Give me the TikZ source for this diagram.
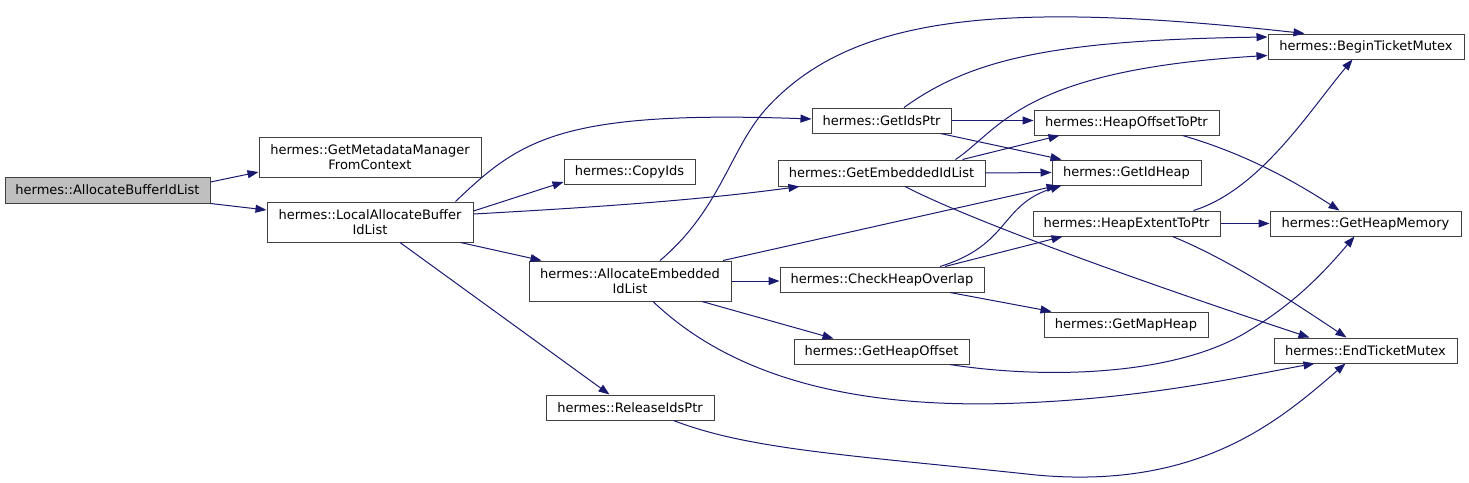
\documentclass[tikz,border=0pt]{standalone}
\usepackage{fontspec}
\setmainfont{DejaVu Sans}
\usetikzlibrary{arrows.meta}
\definecolor{edgec}{HTML}{191970}
\definecolor{boxc}{HTML}{404040}
\definecolor{rootc}{HTML}{BFBFBF}
\begin{document}
\begin{tikzpicture}[x=1pt,y=-1pt,
  box/.style={draw=boxc, line width=1pt, fill=white, inner sep=0pt, align=center,
    font=\fontsize{13}{15}\selectfont, minimum height=25pt},
  tall/.style={minimum height=40pt},
  edge/.style={draw=edgec, line width=1pt, -{Triangle[length=11pt,width=8pt]}}]
\useasboundingbox (0,0) rectangle (1469,482);

% nodes
\node[box, fill=rootc, minimum width=205pt, minimum height=26pt] (a) at (107.5,190) {hermes::AllocateBufferIdList};
\node[box, tall, minimum width=222pt] (gmm) at (370,157) {hermes::GetMetadataManager\\FromContext};
\node[box, tall, minimum width=206pt] (lab) at (370,222) {hermes::LocalAllocateBuffer\\IdList};
\node[box, minimum width=131pt] (cid) at (629.5,171.5) {hermes::CopyIds};
\node[box, minimum width=139pt] (gip) at (881.5,120.5) {hermes::GetIdsPtr};
\node[box, minimum width=207pt, minimum height=26pt] (gel) at (881.5,173) {hermes::GetEmbeddedIdList};
\node[box, tall, minimum width=202pt] (aei) at (630,281) {hermes::AllocateEmbedded\\IdList};
\node[box, minimum width=204pt] (cho) at (882,279.5) {hermes::CheckHeapOverlap};
\node[box, minimum width=175pt] (gho) at (881.5,351.5) {hermes::GetHeapOffset};
\node[box, minimum width=168pt] (rip) at (630,407.5) {hermes::ReleaseIdsPtr};
\node[box, minimum width=196pt] (btm) at (1366,46.5) {hermes::BeginTicketMutex};
\node[box, minimum width=185pt] (hotp) at (1126.5,122.5) {hermes::HeapOffsetToPtr};
\node[box, minimum width=149pt] (gih) at (1126.5,172.5) {hermes::GetIdHeap};
\node[box, minimum width=187pt] (hetp) at (1126.5,223.5) {hermes::HeapExtentToPtr};
\node[box, minimum width=191pt] (ghm) at (1365.5,223.5) {hermes::GetHeapMemory};
\node[box, minimum width=164pt] (gmh) at (1126,324.5) {hermes::GetMapHeap};
\node[box, minimum width=183pt] (etm) at (1365.5,350.5) {hermes::EndTicketMutex};

% edges
\draw[edge] ([shift={(0,-8)}]a.east) -- ([shift={(0,15)}]gmm.west);
\draw[edge] (a.south east) -- ([shift={(0,-12)}]lab.west);
\draw[edge] ([shift={(-18,0)}]lab.north east) .. controls (520,140) and (560,110) .. ([shift={(0,-1.5)}]gip.west);
\draw[edge] ([shift={(0,-11)}]lab.east) -- ([shift={(0,10.5)}]cid.west);
\draw[edge] ([shift={(0,-8)}]lab.east) .. controls (600,207) and (700,200) .. ([shift={(22,0)}]gel.south west);
\draw[edge] ([shift={(-13,0)}]lab.south east) -- ([shift={(13,0)}]aei.north west);
\draw[edge] ([shift={(30,0)}]lab.south) -- ([shift={(64,0)}]rip.north west);

\draw[edge] ([shift={(22.5,0)}]gip.north) .. controls (970,60) and (1050,40) .. ([shift={(0,-9.5)}]btm.west);
\draw[edge] (gip.east) -- ([shift={(0,-2)}]hotp.west);
\draw[edge] ([shift={(-11,0)}]gip.south east) -- ([shift={(10,0)}]gih.north west);

\draw[edge] ([shift={(-30,0)}]gel.north east) .. controls (1000,130) and (1020,70) .. ([shift={(0,-4)}]btm.south west);
\draw[edge] ([shift={(-23,0)}]gel.north east) -- ([shift={(26,0)}]hotp.south west);
\draw[edge] (gel.east) -- (gih.west);
\draw[edge] ([shift={(23.5,0)}]gel.south) .. controls (960,215) and (1100,268) .. ([shift={(36,0)}]etm.north west);

\draw[edge] ([shift={(30,0)}]aei.north) .. controls (720,210) and (730,150) .. (765,110)
  .. controls (850,15) and (1000,0) .. ([shift={(37,0)}]btm.north west);
\draw[edge] ([shift={(93,0)}]aei.north) -- ([shift={(6,0)}]gih.south west);
\draw[edge] (aei.east) -- ([shift={(0,1.5)}]cho.west);
\draw[edge] ([shift={(72,0)}]aei.south) -- ([shift={(40,0)}]gho.north west);
\draw[edge] ([shift={(23,0)}]aei.south) .. controls (730,375) and (850,410) .. (1020,403)
  .. controls (1150,398) and (1250,375) .. ([shift={(41,0)}]etm.south west);

\draw[edge] ([shift={(58,0)}]cho.north) .. controls (1010,245) and (1000,205) .. ([shift={(10,0)}]gih.south west);
\draw[edge] ([shift={(63,0)}]cho.north) -- ([shift={(30,0)}]hetp.south west);
\draw[edge] ([shift={(68,0)}]cho.south) -- ([shift={(8,0)}]gmh.north west);

\draw[edge] ([shift={(-37,0)}]hotp.south east) .. controls (1250,155) and (1300,185) .. ([shift={(70,0)}]ghm.north west);
\draw[edge] ([shift={(-27,0)}]hetp.north east) .. controls (1260,190) and (1310,110) .. ([shift={(85,0)}]btm.south west);
\draw[edge] (hetp.east) -- (ghm.west);
\draw[edge] ([shift={(-48,0)}]hetp.south east) .. controls (1230,260) and (1290,300) .. ([shift={(73,0)}]etm.north west);

\draw[edge] ([shift={(-20,0)}]gho.south east) .. controls (1050,380) and (1180,375) .. (1250,330)
  .. controls (1300,300) and (1330,265) .. ([shift={(85,0)}]ghm.south west);
\draw[edge] ([shift={(-41,0)}]rip.south east) .. controls (750,450) and (850,455) .. (1036,475)
  .. controls (1200,490) and (1280,420) .. ([shift={(72,0)}]etm.south west);
\end{tikzpicture}
\end{document}
